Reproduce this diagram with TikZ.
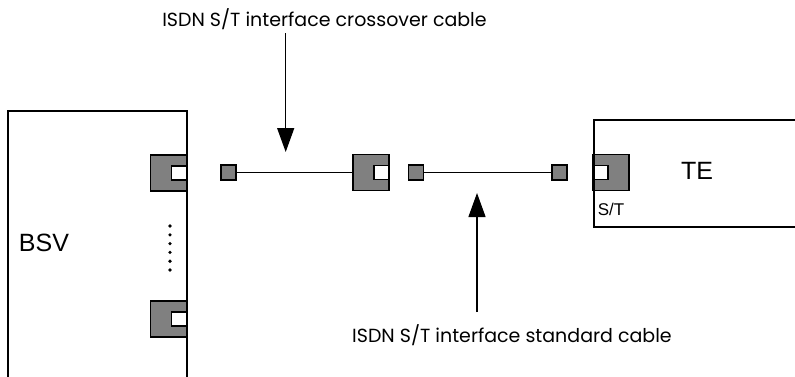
\documentclass[tikz,border=0pt]{standalone}
\usepackage{fontspec}
\setmainfont{Liberation Sans}
\newfontfamily\cablefont{Poppins}
\usetikzlibrary{arrows.meta,positioning}

\begin{document}
\begin{tikzpicture}[
    x=1pt, y=-1pt,
    line width=1.3pt,
    box/.style={rectangle, draw, line width=1.5pt, inner sep=0pt},
    port/.style={rectangle, draw, fill=gray, minimum width=36pt, minimum height=36pt, inner sep=0pt},
    hole/.style={rectangle, draw, fill=white, minimum width=15pt, minimum height=14pt, inner sep=0pt},
    plug/.style={rectangle, draw, fill=gray, minimum size=15pt, inner sep=0pt},
    callout/.style={font=\cablefont\fontsize{19}{22}\selectfont, inner sep=0pt, anchor=base},
    pointer/.style={-{Triangle[length=24pt, width=17pt]}, line width=1.3pt}
]
    \path[use as bounding box] (0,0) rectangle (795,376);
    \clip (0,0) rectangle (795,376);

    % BSV side
    \node[port] (bsvportA) at (168.5,173) {};
    \node[hole, anchor=east] (bsvholeA) at (bsvportA.east) {};
    \node[port] (bsvportB) at (168.5,319) {};
    \node[hole, anchor=east] (bsvholeB) at (bsvportB.east) {};
    \node[box, anchor=north west, minimum width=179pt, minimum height=300pt] (bsv) at (7,110) {};
    \node[font=\fontsize{25}{30}\selectfont] (bsvlabel) at (44,243) {BSV};
    \foreach \k in {0,...,5}
        \fill (170,226+\k*8.8) circle (1.8pt);

    % crossover cable
    \node[plug] (plugA) at (228.5,172.5) {};
    \node[port] (xconn) at (371,172.5) {};
    \node[hole, anchor=east] (xhole) at (xconn.east) {};
    \draw (plugA) -- (xconn);

    % standard cable
    \node[plug] (plugB) at (416,172.5) {};
    \node[plug] (plugC) at (559.5,172.5) {};
    \draw (plugB) -- (plugC);

    % TE side
    \node[port] (teport) at (611,172.5) {};
    \node[hole, anchor=west] (tehole) at (teport.west) {};
    \node[box, anchor=north west, minimum width=230pt, minimum height=107pt] (te) at (593,119) {};
    \node[font=\fontsize{25}{30}\selectfont] (telabel) at (697,171) {TE};
    \node[font=\fontsize{17}{20}\selectfont] (stlabel) at (611,209) {S/T};

    % callouts
    \node[callout] (xlabel) at (324.5,26) {ISDN S/T interface crossover cable};
    \coordinate (xtail) at (285.7,33);
    \coordinate (xtip) at (285.7,152);
    \draw[pointer] (xtail) -- (xtip);

    \node[callout] (slabel) at (512,342) {ISDN S/T interface standard cable};
    \coordinate (stail) at (477,312);
    \coordinate (stip) at (477,193);
    \draw[pointer] (stail) -- (stip);
\end{tikzpicture}
\end{document}
